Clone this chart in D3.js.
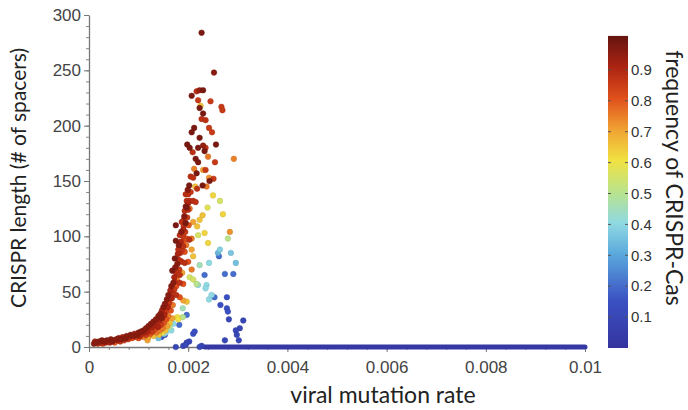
<!DOCTYPE html>
<html>
<head>
<meta charset="utf-8">
<script src="https://cdn.jsdelivr.net/npm/d3@7"></script>
<style>
  body { margin: 0; background: #fff; }
  svg text { font-family: "Liberation Sans", Arial, sans-serif; }
</style>
</head>
<body>
<svg id="chart"></svg>
<script>
// tick values and labels
const xTicks = [0, 0.002, 0.004, 0.006, 0.008, 0.01];
const xTickLabels = ["0", "0.002", "0.004", "0.006", "0.008", "0.01"];
const yTicks = [0, 50, 100, 150, 200, 250, 300];
const cbTicks = [0.1, 0.2, 0.3, 0.4, 0.5, 0.6, 0.7, 0.8, 0.9];

// [viral mutation rate, CRISPR length, frequency of CRISPR-Cas]
const lowBand = [
  [0.00010,3,.95],[0.00012,5,.9],[0.00015,4,.95],[0.00018,3,.85],[0.00020,5,.95],
  [0.00023,4,.9],[0.00026,6,.95],[0.00028,3,.85],[0.00031,5,.95],[0.00034,4,.9],
  [0.00036,6,.95],[0.00039,5,.85],[0.00042,4,.9],[0.00044,7,.95],[0.00047,5,.95],
  [0.00050,6,.85],[0.00052,4,.8],[0.00055,7,.95],[0.00058,6,.9],[0.00060,8,.95],
  [0.00063,5,.85],[0.00066,7,.95],[0.00068,9,.9],[0.00071,6,.85],[0.00074,8,.95],
  [0.00076,10,.95],[0.00079,7,.85],[0.00082,9,.9],[0.00084,11,.95],[0.00087,8,.8],
  [0.00090,10,.95],[0.00092,12,.9],[0.00095,9,.85],[0.00097,11,.95],[0.00100,13,.95],
  [0.00100,8,.8],[0.00103,10,.9],[0.00105,14,.95],[0.00107,12,.85],[0.00110,9,.75],
  [0.00110,15,.95],[0.00112,13,.9],[0.00115,17,.95],[0.00115,11,.85],[0.00118,14,.9],
  [0.00118,6,.7],[0.00120,19,.95],[0.00120,9,.7],[0.00122,16,.85],[0.00124,12,.8],
  [0.00125,21,.95],[0.00127,18,.9],[0.00128,14,.85],[0.00130,23,.95],[0.00130,10,.65],
  [0.00132,20,.9],[0.00133,16,.8],[0.00135,25,.95],[0.00136,13,.75],[0.00137,22,.85],
  [0.00139,18,.9],[0.00140,28,.95],[0.00141,11,.65],[0.00142,24,.9],[0.00143,15,.75],
  [0.00144,30,.95],[0.00145,20,.85],[0.00147,33,.9],[0.00147,26,.95],[0.00148,13,.6],
  [0.00149,17,.75],[0.00150,36,.95],[0.00151,22,.8],[0.00152,29,.9],[0.00153,39,.95],
  [0.00154,15,.65],[0.00155,32,.85],[0.00156,25,.8],[0.00157,43,.95],[0.00158,19,.7],
  [0.00159,36,.9],[0.00160,47,.95],[0.00160,28,.75],[0.00162,40,.85],[0.00163,22,.65],
  [0.00164,51,.9],[0.00165,33,.8],[0.00166,55,.95],[0.00167,44,.9],[0.00168,26,.7],
  [0.00169,38,.75]
];

const midPoints = [
  [0.00170,58,.95],[0.00172,63,.9],[0.00174,72,.95],[0.00172,52,.85],[0.00176,55,.8],
  [0.00178,75,.95],[0.00179,84,.9],[0.00177,62,.75],[0.00181,92,.95],[0.00182,70,.85],
  [0.00184,78,.8],[0.00185,95,.9],[0.00186,104,.95],[0.00188,88,.85],[0.00188,67,.7],
  [0.00190,106,.9],[0.00191,96,.8],[0.00192,118,.95],[0.00194,104,.85],[0.00195,127,.95],
  [0.00196,92,.75],[0.00198,117,.85],[0.00200,130,.9],[0.00201,110,.8],[0.00199,142,.95],
  [0.00203,125,.75],[0.00205,140,.85],
  [0.00233,103,.62],[0.00284,104,.72],[0.0028,98,.5],[0.00175,96,.97],[0.00183,101,.87],
  [0.0019,100,.85],[0.00197,98,.8],[0.00202,97,.87],[0.00207,98,.75],[0.0022,101,.55],
  [0.0024,94,.62],[0.0019,91,.87],[0.0018,88,.87],[0.00184,85,.87],[0.00193,86,.8],
  [0.00207,88,.7],[0.0021,82,.65],[0.00264,88,.38],[0.0026,85,.32],[0.00262,82,.2],
  [0.00286,85,.36],[0.00296,76,.35],[0.00173,80,.97],[0.0018,79,.87],[0.00187,77,.87],
  [0.00193,76,.87],[0.002,77,.8],[0.00223,74,.45],[0.00242,76,.4],[0.00207,70,.75],
  [0.00168,69,.97],[0.00176,67,.87],[0.00183,65,.87],[0.00233,65,.2],[0.00274,66,.2],
  [0.00291,66,.2],[0.00203,63,.55],[0.0021,61,.55],[0.00217,57,.5],[0.00173,59,.87],
  [0.00183,58,.87],[0.0019,57,.8],[0.0022,56,.4],[0.00237,56,.4],[0.00235,53,.4],
  [0.00278,45,.15],[0.00253,45,.2],[0.00278,35,.15],[0.00242,43,.4],[0.00247,47,.4],
  [0.0017,48,.87],[0.00176,47,.87],[0.00183,45,.8],[0.0019,42,.7],[0.00197,41,.65],
  [0.00189,35,.45],[0.00265,38,.15],[0.0028,32,.15],[0.00282,25,.1],[0.00311,24,.1],
  [0.00304,17,.1],[0.00296,15,.1],[0.00298,11,.1],[0.00302,6,.1],[0.00274,6,.1],
  [0.00178,27,.6],[0.00189,27,.5],[0.00197,29,.2],[0.0018,25,.6],[0.0017,21,.4],
  [0.00182,20,.2],[0.00162,18,.5],[0.00166,15,.4],[0.00151,12,.4],[0.0021,12,.15],
  [0.00213,14,.15],[0.00153,11,.15],[0.00146,9,.15],[0.0014,8,.35],[0.00155,13,.4],
  [0.00202,5,.1],[0.00197,4,.1],[0.0019,1,.1],[0.00195,2,.1],[0.00175,0,.1],
  [0.00227,1,.1],[0.00223,0,.1]
];

const peakCluster = [
  [0.00227,284,.97],[0.00252,248,.95],[0.00207,227,.97],[0.00217,231,.88],[0.00223,232,.93],
  [0.0023,232,.97],[0.0022,223,.85],[0.00245,222,.85],[0.00223,216,.97],[0.00225,218,.65],
  [0.0023,211,.97],[0.00267,217,.85],[0.00269,214,.85],[0.00227,206,.87],[0.00235,205,.87],
  [0.00242,198,.85],[0.00212,198,.97],[0.00207,194,.97],[0.00248,194,.85],[0.00223,189,.97],
  [0.00256,183,.97],[0.00198,183,.97],[0.00203,180,.97],[0.00209,176,.87],[0.0022,180,.97],
  [0.0023,182,.93],[0.00235,180,.87],[0.00233,177,.97],[0.0024,172,.75],[0.00215,170,.97],
  [0.0022,167,.97],[0.00254,167,.85],[0.00292,170,.74],[0.00212,161,.74],[0.0023,160,.7],
  [0.00235,160,.85],[0.00217,157,.97],[0.00205,154,.87],[0.0021,153,.87],[0.00242,153,.72],
  [0.00251,152,.85],[0.00243,150,.97],[0.00202,146,.97],[0.00214,145,.65],[0.00218,143,.87],
  [0.00229,146,.97],[0.00237,145,.75],[0.00195,138,.87],[0.002,138,.87],[0.0025,137,.62],
  [0.00264,132,.55],[0.00197,132,.87],[0.00203,132,.87],[0.0021,132,.87],[0.00215,131,.87],
  [0.00239,126,.57],[0.00197,126,.97],[0.00193,123,.87],[0.002,124,.87],[0.0027,120,.62],
  [0.00229,119,.65],[0.00223,115,.65],[0.0019,114,.87],[0.00175,110,.97],[0.00187,113,.87],
  [0.00195,112,.97],[0.00191,109,.87],[0.0021,113,.7],[0.00218,109,.65]
];

// points sitting on zero length, from this rate to the end of the axis
const zeroRun = [0.00233, 0.01];

// colour map stops (jet-like, as printed)
const cmapStops = [0, 0.15, 0.3, 0.4, 0.5, 0.6, 0.7, 0.8, 0.9, 1];
const cmapColors = ["#35349e", "#3a50c2", "#5aa8dc", "#8fd9e2", "#b9e38c",
                    "#f0e243", "#f0a232", "#e0501c", "#ac2412", "#641410"];

const width = 688, height = 410;
const svg = d3.select("#chart").attr("width", width).attr("height", height);

const x = d3.scaleLinear().domain([0, 0.01]).range([89, 585]);
const y = d3.scaleLinear().domain([0, 300]).range([347, 15]);
const color = d3.scaleLinear().domain(cmapStops).range(cmapColors).interpolate(d3.interpolateRgb);

// minor ticks
svg.append("g").attr("transform", "translate(0,347)")
  .call(d3.axisBottom(x).tickValues(d3.range(0, 0.01001, 0.0004)).tickSize(3).tickFormat(""))
  .call(g => g.select(".domain").remove())
  .selectAll("line").attr("stroke", "#888");
svg.append("g").attr("transform", "translate(89,0)")
  .call(d3.axisLeft(y).tickValues(d3.range(0, 301, 10)).tickSize(3).tickFormat(""))
  .call(g => g.select(".domain").remove())
  .selectAll("line").attr("stroke", "#888");

// major axes
const xAxis = svg.append("g").attr("transform", "translate(0,347)")
  .call(d3.axisBottom(x).tickValues(xTicks).tickSize(5).tickSizeOuter(0)
    .tickFormat((d, i) => xTickLabels[i]));
const yAxis = svg.append("g").attr("transform", "translate(89,0)")
  .call(d3.axisLeft(y).tickValues(yTicks).tickSize(5).tickSizeOuter(0));

[xAxis, yAxis].forEach(g => {
  g.select(".domain").attr("stroke", "#777").attr("stroke-width", 1.3);
  g.selectAll(".tick line").attr("stroke", "#777");
  g.selectAll(".tick text").attr("font-size", 17).attr("fill", "#444")
    .attr("font-family", "'Liberation Sans', Arial, sans-serif");
});
xAxis.selectAll(".tick text").attr("dy", "1.05em");
yAxis.selectAll(".tick text").attr("x", -8);

// zero-length run along the axis
svg.append("line")
  .attr("x1", x(zeroRun[0])).attr("x2", x(zeroRun[1]))
  .attr("y1", y(0)).attr("y2", y(0))
  .attr("stroke", color(0.02)).attr("stroke-width", 5).attr("stroke-linecap", "round");

// scatter points
const allPoints = lowBand.concat(midPoints, peakCluster)
  .slice().sort((a, b) => a[2] - b[2]);
svg.append("g").selectAll("circle")
  .data(allPoints)
  .join("circle")
  .attr("cx", d => x(d[0]))
  .attr("cy", d => y(d[1]))
  .attr("r", 2.8)
  .attr("fill", d => color(d[2]))
  .attr("stroke", d => d3.color(color(d[2])).darker(0.4))
  .attr("stroke-width", 0.5);

// colour bar
const cb = d3.scaleLinear().domain([0, 1]).range([348, 39]);
const grad = svg.append("defs").append("linearGradient")
  .attr("id", "cbGrad").attr("x1", 0).attr("y1", 1).attr("x2", 0).attr("y2", 0);
grad.selectAll("stop").data(d3.range(0, 1.0001, 0.05))
  .join("stop")
  .attr("offset", d => d)
  .attr("stop-color", d => color(d));
svg.append("rect")
  .attr("x", 608).attr("y", cb(1.01)).attr("width", 20).attr("height", cb(0) - cb(1.01))
  .attr("fill", "url(#cbGrad)");
const cbTick = svg.append("g").selectAll("g").data(cbTicks).join("g");
cbTick.append("line").attr("x1", 608).attr("x2", 611)
  .attr("y1", d => cb(d)).attr("y2", d => cb(d)).attr("stroke", "#555");
cbTick.append("line").attr("x1", 625).attr("x2", 628)
  .attr("y1", d => cb(d)).attr("y2", d => cb(d)).attr("stroke", "#555");
cbTick.append("text")
  .attr("x", 631).attr("y", d => cb(d)).attr("dy", "0.35em")
  .attr("font-size", 15).attr("fill", "#333")
  .text(d => d3.format(".1f")(d));

// titles
svg.append("text")
  .attr("transform", "translate(383,403)")
  .attr("text-anchor", "middle")
  .style("font-family", "Lato, 'Open Sans', sans-serif")
  .attr("font-size", 23).attr("fill", "#222")
  .text("viral mutation rate");
svg.append("text")
  .attr("transform", "translate(26,178) rotate(-90)")
  .attr("text-anchor", "middle")
  .style("font-family", "Lato, 'Open Sans', sans-serif")
  .attr("font-size", 21).attr("fill", "#222")
  .text("CRISPR length (# of spacers)");
svg.append("text")
  .attr("transform", "translate(666,178) rotate(90)")
  .attr("text-anchor", "middle")
  .style("font-family", "Lato, 'Open Sans', sans-serif")
  .attr("font-size", 23).attr("fill", "#222")
  .text("frequency of CRISPR-Cas");
</script>
</body>
</html>
